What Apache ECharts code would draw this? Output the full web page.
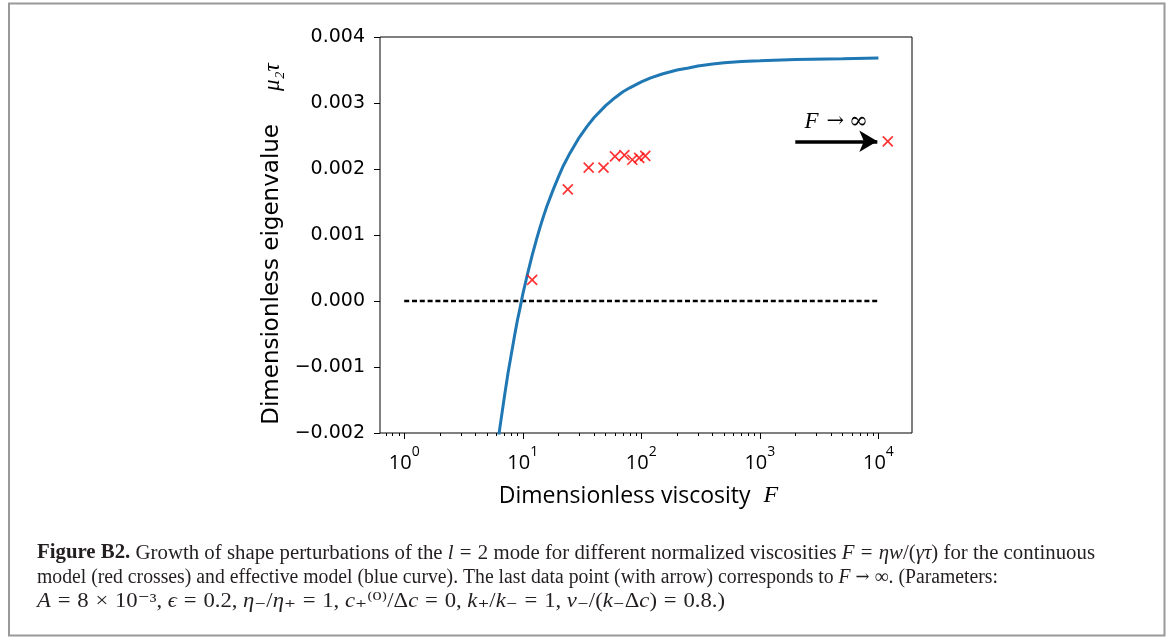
<!DOCTYPE html>
<html><head><meta charset="utf-8">
<script src="https://cdn.jsdelivr.net/npm/echarts@6/dist/echarts.min.js"></script>
<style>html,body{margin:0;padding:0;background:#fff}#c{width:1171px;height:637px}</style>
</head><body><div id="c"></div>
<script>
// ---- data ----
// continuous model (red crosses)
const crossF  = [12, 24, 36, 48, 60, 72, 84, 96, 108, 12000];
const crossMu = [0.00032, 0.00169, 0.00202, 0.00202, 0.00219, 0.00221, 0.00214, 0.00217, 0.00220, 0.00242];
// effective model (blue curve)
const curveF  = [6, 6.4, 7, 7.5, 8, 8.5, 9, 9.5, 10, 11, 12, 13, 14, 15, 16, 18, 20, 22, 25, 30, 35, 40, 50, 60, 70, 80, 100, 120, 150, 200, 250, 300, 400, 500, 700, 1000, 2000, 5000, 10000];
const curveMu = [-0.00230, -0.00193, -0.00145, -0.00110, -0.00081, -0.00054, -0.00030, -0.00010, 0.00010, 0.00042, 0.00069, 0.00092, 0.00112, 0.00129, 0.00144, 0.00168, 0.00188, 0.00205, 0.00224, 0.00248, 0.00265, 0.00278, 0.00296, 0.00308, 0.00317, 0.00323, 0.00332, 0.00338, 0.00344, 0.00350, 0.00353, 0.00356, 0.00359, 0.00361, 0.00363, 0.00364, 0.00366, 0.00367, 0.00368];
// zero reference (dashed)
const zeroF  = [1, 10000];
const zeroMu = [0, 0];
// arrow annotation (F -> infinity)
const arrowF = [1990, 9790];
// axis ticks
const xMajorTicks = [1, 10, 100, 1000, 10000];
const xTickExps   = ['0', '1', '2', '3', '4'];
const xMinorTicks = [0.7, 0.8, 0.9, 2, 3, 4, 5, 6, 7, 8, 9, 20, 30, 40, 50, 60, 70, 80, 90, 200, 300, 400, 500, 600, 700, 800, 900, 2000, 3000, 4000, 5000, 6000, 7000, 8000, 9000];
const yTicks      = [-0.002, -0.001, 0, 0.001, 0.002, 0.003, 0.004];
const yTickLabels = ['\u22120.002', '\u22120.001', '0.000', '0.001', '0.002', '0.003', '0.004'];

const captionLines = [
  '{b|Figure B2.} Growth of shape perturbations of the {i|l}{o|=}2 mode for different normalized viscosities {i|F}{o|=}{i|\u03b7w}/({i|\u03b3\u03c4}) for the continuous',
  'model (red crosses) and effective model (blue curve). The last data point (with arrow) corresponds to {i|F}{a|\u2192}\u221e. (Parameters:',
  '{i|A}{o|=}8{o|\u00d7}10\u207b\u00b3, {i|\u03f5}{o|=}0.2, {i|\u03b7}\u208b/{i|\u03b7}\u208a{o|=}1, {i|c}\u208a\u207d\u2070\u207e/\u0394{i|c}{o|=}0, {i|k}\u208a/{i|k}\u208b{o|=}1, {i|\u03bd}\u208b/({i|k}\u208b\u0394{i|c}){o|=}0.8.)'
];

// ---- helpers ----
const zip = (a, b) => a.map((v, i) => [v, b[i]]);
const capFont = 'Liberation Serif, DejaVu Serif, serif';
const capBase = {fontFamily: capFont, fontSize: 20, fontStyle: 'normal', fontWeight: 'normal'};
const capRich = {
  b: {fontWeight: 'bold', fontFamily: capFont, fontSize: 20},
  i: {fontStyle: 'italic', fontFamily: capFont, fontSize: 20},
  o: {fontFamily: capFont, fontSize: 20, padding: [0, 6, 0, 6]},
  a: {fontFamily: 'DejaVu Serif', fontSize: 17, padding: [0, 5, 0, 5]}
};
function measureRich(str) {
  const ctx = document.createElement('canvas').getContext('2d');
  let w = 0;
  const seg = (t, st) => {
    ctx.font = `${st.fontStyle || 'normal'} ${st.fontWeight || 'normal'} ${st.fontSize}px ${st.fontFamily}`;
    w += ctx.measureText(t).width;
    if (st.padding) w += st.padding[1] + st.padding[3];
  };
  const re = /\{(\w+)\|([^}]*)\}/g;
  let last = 0, m;
  while ((m = re.exec(str))) {
    if (m.index > last) seg(str.slice(last, m.index), capBase);
    seg(m[2], Object.assign({}, capBase, capRich[m[1]]));
    last = re.lastIndex;
  }
  if (last < str.length) seg(str.slice(last), capBase);
  return w;
}
const capWidths = [1058, 961, 688];
const capMid = [553.3, 577.6, 602.2];

const chart = echarts.init(document.getElementById('c'), null, {renderer: 'canvas'});
const mathFont = 'Liberation Serif, DejaVu Serif, serif';

chart.setOption({
  animation: false,
  backgroundColor: '#fff',
  grid: {left: 380, top: 37, width: 532, height: 396, show: true, borderColor: '#000', borderWidth: 1, backgroundColor: 'transparent', containLabel: false},
  xAxis: [{
    type: 'log', logBase: 10, min: 0.625, max: 19200, position: 'bottom',
    axisLine: {show: false, onZero: false},
    splitLine: {show: false},
    axisTick: {show: true, customValues: xMajorTicks, length: 6, lineStyle: {color: '#000', width: 1}},
    axisLabel: {
      customValues: xMajorTicks, margin: 12, color: '#000',
      formatter: v => {
        const k = xMajorTicks.findIndex(t => Math.abs(Math.log10(t) - Math.log10(v)) < 1e-6);
        return k < 0 ? '' : '{b|10}{s|' + xTickExps[k] + '}';
      },
      rich: {
        b: {fontFamily: 'Open Sans', fontSize: 20, lineHeight: 36, color: '#000'},
        s: {fontFamily: 'Open Sans', fontSize: 14, lineHeight: 14, verticalAlign: 'top', color: '#000'}
      }
    },
    name: '{a|Dimensionless viscosity}{f|F}',
    nameLocation: 'middle', nameGap: 51,
    nameTextStyle: {
      rich: {
        a: {fontFamily: 'Open Sans', fontSize: 23, color: '#000'},
        f: {fontFamily: mathFont, fontStyle: 'italic', fontSize: 24, color: '#000', padding: [0, 15, 0, 13]}
      }
    }
  }, {
    type: 'log', logBase: 10, min: 0.625, max: 19200, position: 'bottom',
    axisLine: {show: false, onZero: false}, splitLine: {show: false},
    axisLabel: {show: false},
    axisTick: {show: true, customValues: xMinorTicks, length: 3, lineStyle: {color: '#000', width: 1}}
  }],
  yAxis: {
    type: 'value', min: -0.002, max: 0.004, interval: 0.001,
    axisLine: {show: false, onZero: false}, splitLine: {show: false},
    axisTick: {show: true, customValues: yTicks, length: 6, lineStyle: {color: '#000', width: 1}},
    axisLabel: {
      customValues: yTicks, margin: 15, fontFamily: 'DejaVu Sans', fontSize: 19, color: '#000',
      formatter: v => {
        const k = yTicks.findIndex(t => Math.abs(t - v) < 1e-9);
        return k < 0 ? '' : yTickLabels[k];
      }
    },
    name: '{a|Dimensionless eigenvalue}{m|\u03bc\u2082\u03c4}',
    nameLocation: 'middle', nameRotate: 90, nameGap: 96,
    nameTextStyle: {
      rich: {
        a: {fontFamily: 'DejaVu Sans', fontSize: 23, color: '#000'},
        m: {fontFamily: mathFont, fontStyle: 'italic', fontSize: 23, color: '#000', padding: [0, 18, 0, 33]}
      }
    }
  },
  series: [{
    name: 'effective model', type: 'line', xAxisIndex: 0,
    data: zip(curveF, curveMu), showSymbol: false, symbol: 'none', clip: true,
    lineStyle: {color: '#1f77b4', width: 3}, z: 2
  }, {
    name: 'zero', type: 'line', xAxisIndex: 0,
    data: zip(zeroF, zeroMu), showSymbol: false, symbol: 'none',
    lineStyle: {color: '#000', width: 2.5, type: [5, 2.8]}, z: 1
  }, {
    name: 'continuous model', type: 'scatter', xAxisIndex: 0,
    data: zip(crossF, crossMu), clip: false,
    symbol: 'path://M0,0L10,10M10,0L0,10', symbolSize: 10,
    itemStyle: {color: 'rgba(0,0,0,0)', borderColor: '#ff0000', borderWidth: 1.7},
    z: 3,
    markLine: {
      silent: true, animation: false,
      symbol: ['none', 'arrow'], symbolSize: [16, 18],
      lineStyle: {color: '#000', width: 3.5, type: 'solid'},
      label: {
        show: true, position: 'insideMiddleTop', distance: 8,
        formatter: '{i|F}{a|\u2192}{r|\u221e}',
        rich: {
          i: {fontFamily: mathFont, fontStyle: 'italic', fontSize: 23, color: '#000'},
          a: {fontFamily: 'DejaVu Serif', fontSize: 21, color: '#000', padding: [0, 5, 0, 8]},
          r: {fontFamily: 'DejaVu Serif', fontSize: 23, color: '#000'}
        }
      },
      emphasis: {disabled: true},
      data: [[{coord: [arrowF[0], crossMu[crossMu.length - 1]]}, {coord: [arrowF[1], crossMu[crossMu.length - 1]]}]]
    }
  }],
  graphic: [
    {type: 'rect', shape: {x: 9, y: 3.5, width: 1155.5, height: 632}, style: {fill: 'none', stroke: '#999', lineWidth: 2}, silent: true}
  ].concat(captionLines.map((t, i) => ({
    type: 'text', x: 37, y: capMid[i], scaleX: capWidths[i] / measureRich(t), silent: true,
    style: {text: t, fontFamily: capFont, fontSize: 20, fill: '#231f20', align: 'left', verticalAlign: 'middle', rich: capRich}
  })))
});
</script>
</body></html>
